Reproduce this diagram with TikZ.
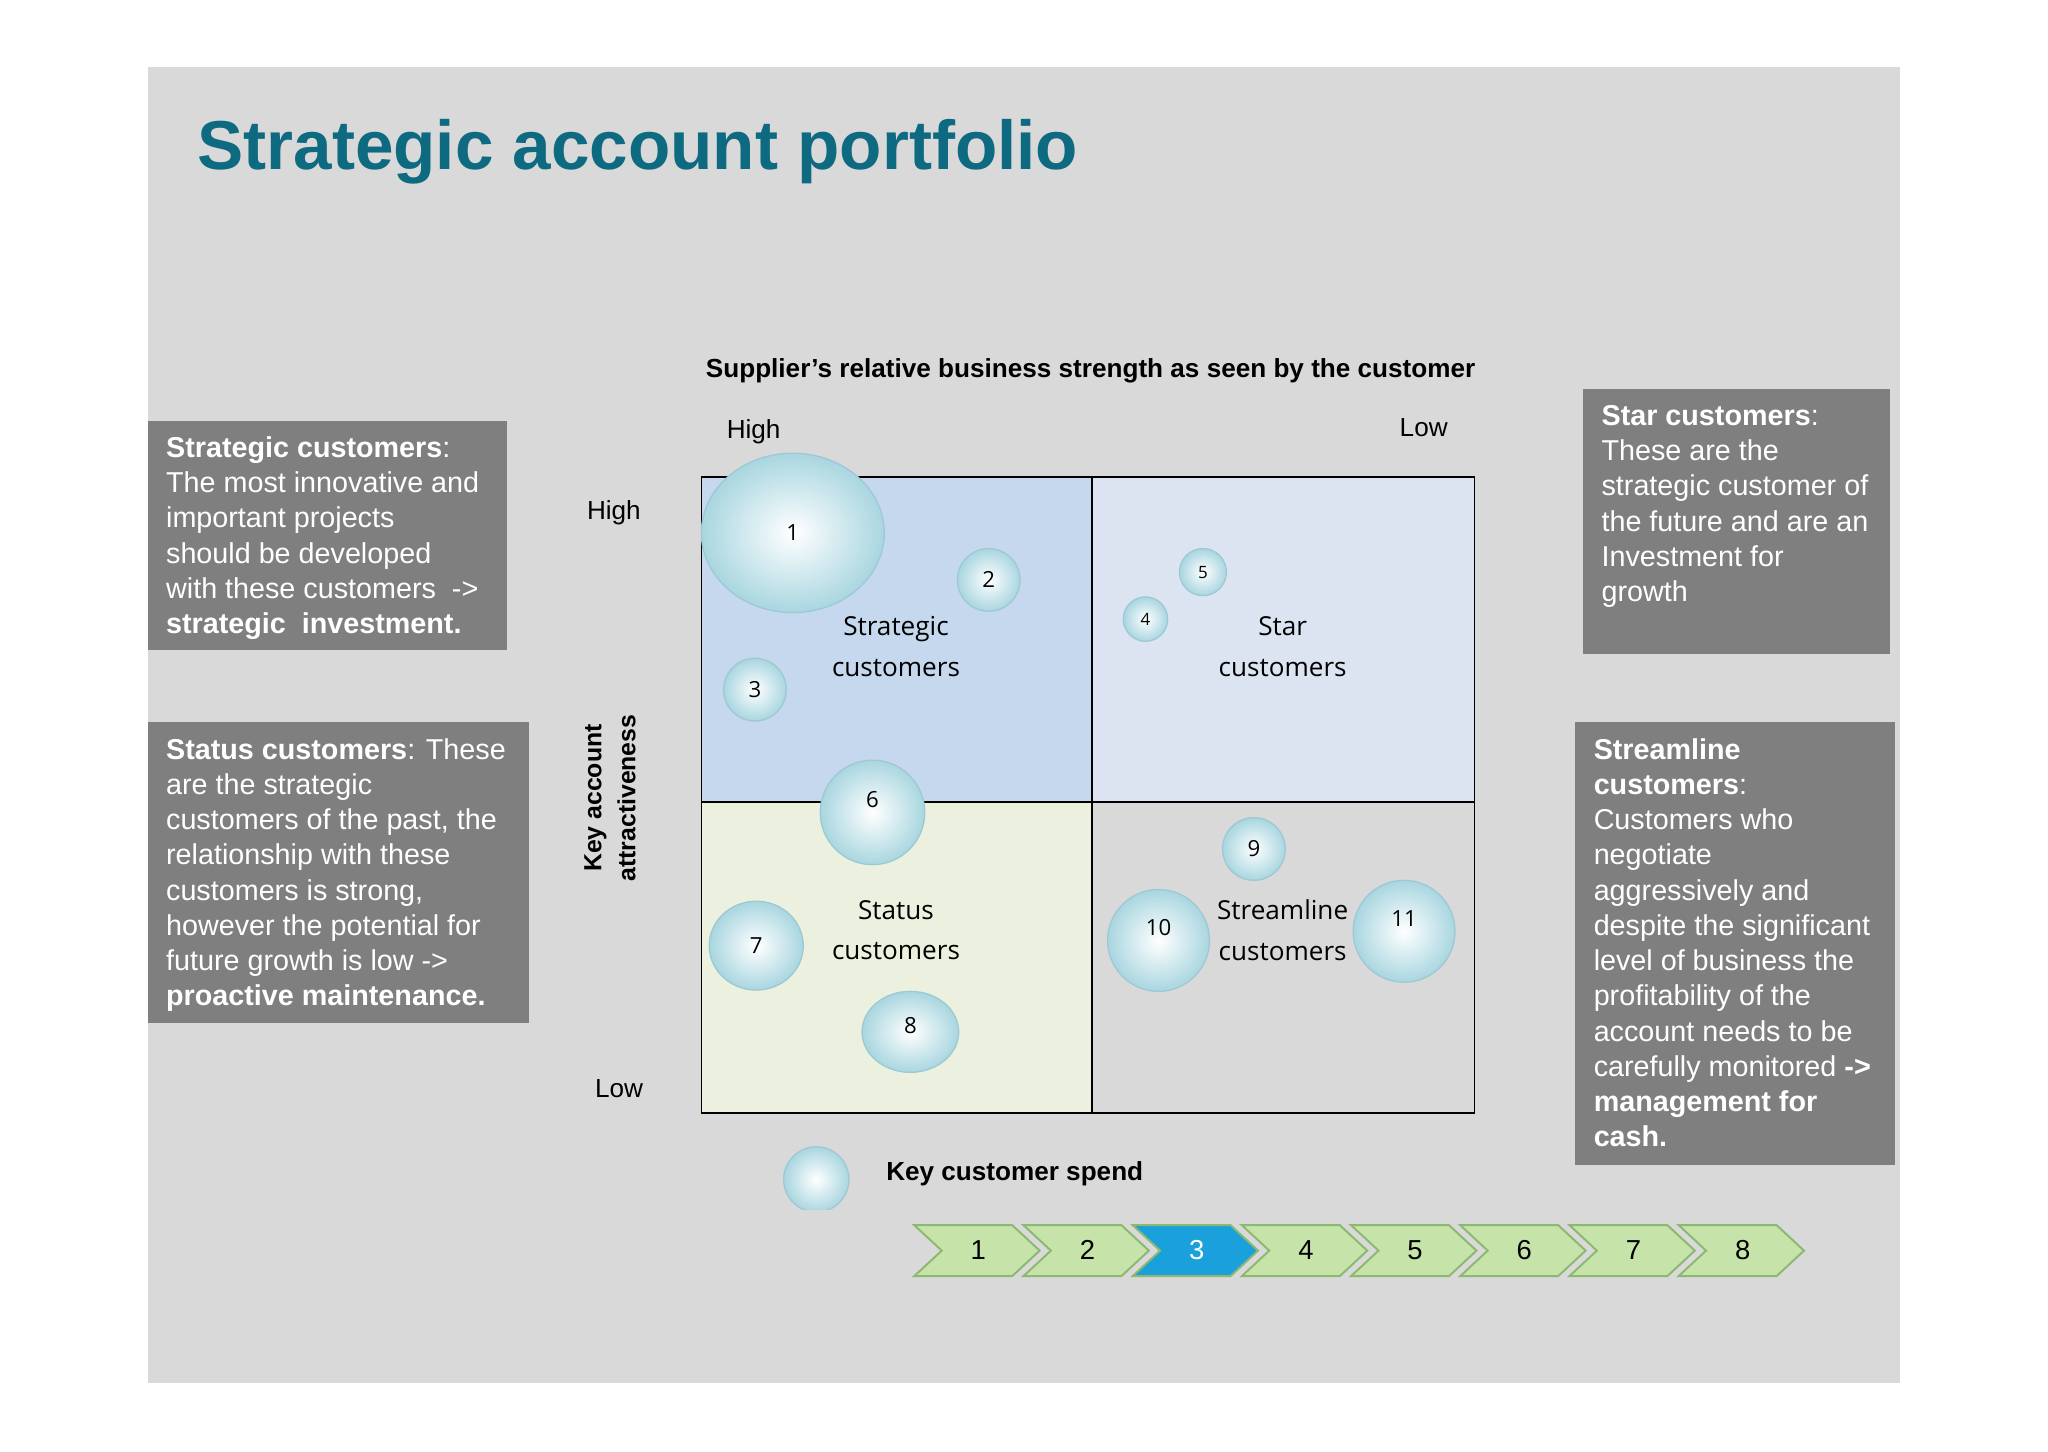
\documentclass[tikz,border=0pt]{standalone}
\usepackage{fontspec}
\setmainfont{Liberation Sans}
\newfontfamily\qfont{Open Sans}
\usetikzlibrary{shapes.geometric}
\definecolor{bg}{HTML}{D9D9D9}
\definecolor{ttl}{HTML}{0E6A80}
\definecolor{gbox}{HTML}{7F7F7F}
\definecolor{qtl}{HTML}{C5D8EE}
\definecolor{qtr}{HTML}{DCE4F2}
\definecolor{qbl}{HTML}{EBF1DE}
\definecolor{qbr}{HTML}{D9D9D9}
\definecolor{bub}{HTML}{A9D6E0}
\definecolor{bubd}{HTML}{9CC9D4}
\definecolor{chev}{HTML}{C6E4AA}
\definecolor{chevd}{HTML}{8DB870}
\definecolor{chevb}{HTML}{1AA0DA}
\tikzset{
 infobox/.style={text=white,anchor=north west,align=left,inner sep=0pt,font=\fontsize{22}{27}\selectfont},
 qlabel/.style={align=center,font=\qfont\fontsize{20}{31}\selectfont},
 bubble/.style={ellipse,draw=bubd,line width=1pt,inner sep=0pt,inner color=white,outer color=bub,font=\qfont\fontsize{17}{20}\selectfont},
 bubtext/.style={font=\qfont\fontsize{17}{20}\selectfont},
 axlab/.style={font=\fontsize{20}{24}\selectfont},
 chevnum/.style={font=\fontsize{21}{24}\selectfont}
}
\begin{document}
\begin{tikzpicture}[x=1pt,y=-1pt]
\useasboundingbox (0,0) rectangle (1568,1111);
\fill[white] (0,0) rectangle (1568,1111);
\fill[bg] (113,51) rectangle (1455,1059);
\node[anchor=base west,text=ttl,font=\bfseries\fontsize{53}{58}\selectfont,inner sep=0pt] (title) at (151,130) {Strategic account portfolio};
\node[font=\bfseries\fontsize{20}{22}\selectfont,anchor=base] (hdr) at (835,289) {Supplier’s relative business strength as seen by the customer};
\node[axlab,anchor=base] (h1) at (577,336) {High};
\node[axlab,anchor=base] (l1) at (1090,334) {Low};
\node[axlab,anchor=base] (h2) at (470,398) {High};
\node[axlab,anchor=base] (l2) at (474,840) {Low};
\node[rotate=90,align=center,font=\bfseries\fontsize{19}{26}\selectfont] (yax) at (467,611) {Key account\\attractiveness};
% quadrants
\fill[qtl] (537,365) rectangle (836,614);
\fill[qtr] (836,365) rectangle (1129,614);
\fill[qbl] (537,614) rectangle (836,852);
\fill[qbr] (836,614) rectangle (1129,852);
\draw[line width=1.2pt] (537,365) rectangle (1129,852);
\draw[line width=1.2pt] (836,365) -- (836,852) (537,614) -- (1129,614);
\node[qlabel] (qs) at (686,495) {Strategic\\customers};
\node[qlabel] (qst) at (982,495) {Star\\customers};
\node[qlabel] (qsa) at (686,712) {Status\\customers};
\node[qlabel] (qsl) at (982,712) {Streamline\\customers};
% bubbles
\node[bubble,minimum width=140,minimum height=122] (b1) at (607,408) {1};
\node[bubble,circle,minimum size=48] (b2) at (757,444) {2};
\node[bubble,circle,minimum size=48] (b3) at (578,528) {3};
\node[bubble,circle,minimum size=34,font=\qfont\fontsize{13}{15}\selectfont] (b4) at (877,474) {4};
\node[bubble,circle,minimum size=36,font=\qfont\fontsize{13}{15}\selectfont] (b5) at (921,438) {5};
\node[bubble,circle,minimum size=80] (b6) at (668,622) {};
\node[bubtext] (b6t) at (668,612) {6};
\node[bubble,minimum width=72,minimum height=68] (b7) at (579,724) {7};
\node[bubble,minimum width=74,minimum height=62] (b8) at (697,790) {};
\node[bubtext] (b8t) at (697,785) {8};
\node[bubble,circle,minimum size=48] (b9) at (960,650) {9};
\node[bubble,circle,minimum size=78] (b10) at (887,720) {};
\node[bubtext] (b10t) at (887,710) {10};
\node[bubble,circle,minimum size=78] (b11) at (1075,713) {};
\node[bubtext] (b11t) at (1075,703) {11};
% legend
\begin{scope}
\clip (590,870) rectangle (660,926);
\node[bubble,circle,minimum size=50] (leg) at (625,903) {};
\end{scope}
\node[anchor=base west,font=\bfseries\fontsize{20}{24}\selectfont] (legt) at (675,904) {Key customer spend};
% info boxes
\fill[gbox] (113,322) rectangle (388,498);
\node[infobox] (ba) at (127,334) {\textbf{Strategic customers}:\\The most innovative and\\important projects\\should be developed\\with these customers\ \ ->\\\textbf{strategic\ \ investment.}};
\fill[gbox] (113,553) rectangle (405,783);
\node[infobox] (bb) at (127,565) {\textbf{Status customers}: These\\are the strategic\\customers of the past, the\\relationship with these\\customers is strong,\\however the potential for\\future growth is low ->\\\textbf{proactive maintenance.}};
\fill[gbox] (1212,298) rectangle (1447,501);
\node[infobox] (bc) at (1226,310) {\textbf{Star customers}:\\These are the\\strategic customer of\\the future and are an\\Investment for\\growth};
\fill[gbox] (1206,553) rectangle (1451,892);
\node[infobox] (bd) at (1220,565) {\textbf{Streamline}\\\textbf{customers}:\\Customers who\\negotiate\\aggressively and\\despite the significant\\level of business the\\profitability of the\\account needs to be\\carefully monitored \textbf{->}\\\textbf{management for}\\\textbf{cash.}};
% chevrons
\foreach \i in {1,...,8}{
  \pgfmathsetmacro{\xo}{700+83.6*(\i-1)}
  \ifnum\i=3 \def\fc{chevb}\def\tc{white}\else\def\fc{chev}\def\tc{black}\fi
  \filldraw[fill=\fc,draw=chevd,line width=1.5pt] (\xo,938) -- (\xo+75,938) -- (\xo+96,957.5) -- (\xo+75,977) -- (\xo,977) -- (\xo+21,957.5) -- cycle;
  \node[chevnum,text=\tc] (c\i) at (\xo+49,957) {\i};
}
\end{tikzpicture}
\end{document}
